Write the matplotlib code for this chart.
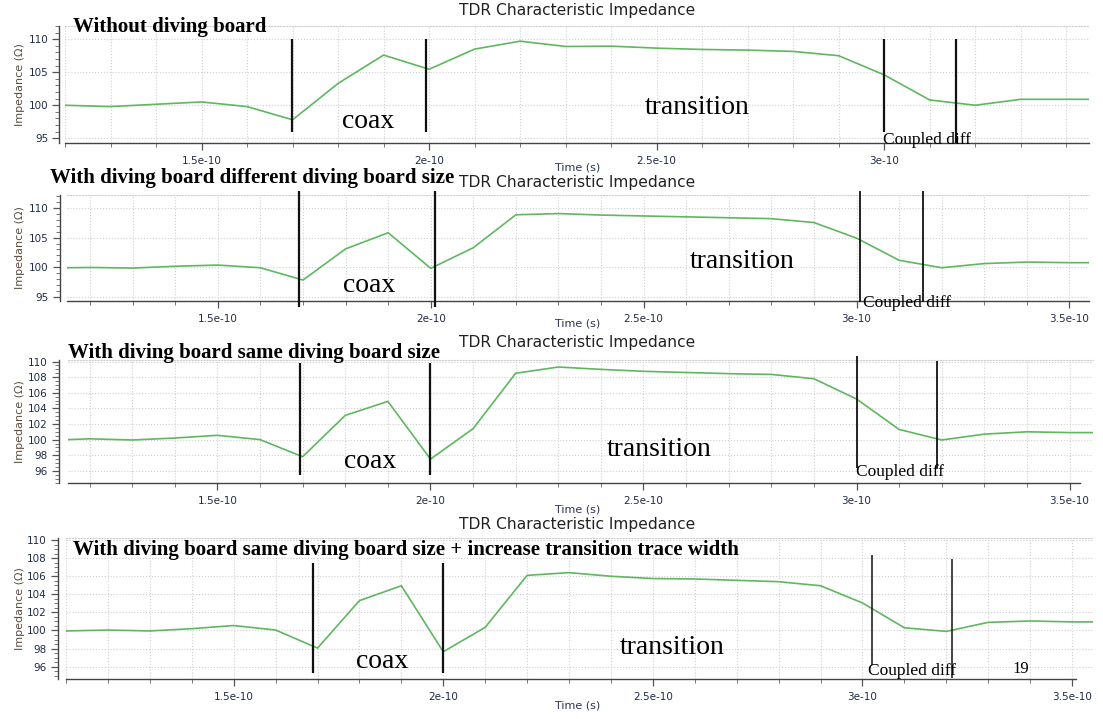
"""
TDR characteristic impedance, four diving-board variants stacked.
"""
import numpy as np
import matplotlib.pyplot as plt
from matplotlib.ticker import MultipleLocator, FixedLocator, FixedFormatter

W, H = 1103, 719

# time in units of 1e-10 s, impedance in ohm
t_none = [1.2, 1.3, 1.4, 1.5, 1.6, 1.7, 1.8, 1.9, 2.0, 2.1, 2.2, 2.3, 2.4, 2.5,
          2.6, 2.7, 2.8, 2.9, 3.0, 3.1, 3.2, 3.3, 3.4, 3.45]
z_none = [100.0, 99.8, 100.15, 100.5, 99.8, 97.8, 103.3, 107.6, 105.45, 108.5,
          109.7, 108.9, 108.95, 108.65, 108.45, 108.35, 108.15, 107.5, 104.6,
          100.8, 100.0, 100.9, 100.9, 100.9]

t_diff = [1.145, 1.2, 1.3, 1.4, 1.5, 1.6, 1.7, 1.8, 1.9, 2.0, 2.1, 2.2, 2.3, 2.4,
          2.5, 2.6, 2.7, 2.8, 2.9, 3.0, 3.1, 3.2, 3.3, 3.4, 3.5, 3.546]
z_diff = [99.95, 100.0, 99.9, 100.2, 100.4, 99.95, 97.9, 103.1, 105.8, 99.85,
          103.3, 108.8, 109.0, 108.75, 108.6, 108.45, 108.3, 108.15, 107.5,
          104.9, 101.2, 99.95, 100.65, 100.9, 100.8, 100.8]

t_same = [1.15, 1.2, 1.3, 1.4, 1.5, 1.6, 1.7, 1.8, 1.9, 2.0, 2.1, 2.2, 2.3, 2.4,
          2.5, 2.6, 2.7, 2.8, 2.9, 3.0, 3.1, 3.2, 3.3, 3.4, 3.5, 3.555]
z_same = [100.0, 100.1, 99.95, 100.2, 100.55, 100.0, 97.8, 103.1, 104.9, 97.5,
          101.4, 108.5, 109.3, 109.0, 108.75, 108.6, 108.45, 108.35, 107.8,
          105.2, 101.3, 99.95, 100.7, 101.0, 100.9, 100.9]

t_wide = [1.1, 1.2, 1.3, 1.4, 1.5, 1.6, 1.7, 1.8, 1.9, 2.0, 2.1, 2.2, 2.3, 2.4,
          2.5, 2.6, 2.7, 2.8, 2.9, 3.0, 3.1, 3.2, 3.3, 3.4, 3.5, 3.55]
z_wide = [99.95, 100.05, 99.95, 100.2, 100.55, 100.05, 98.05, 103.3, 104.95,
          97.65, 100.35, 106.1, 106.4, 106.0, 105.75, 105.7, 105.55, 105.4,
          104.95, 103.05, 100.3, 99.9, 100.9, 101.05, 100.95, 100.95]

# section markers (time, 1e-10 s)
mark_none = [1.698, 1.993, 3.0, 3.157]
mark_diff = [1.691, 2.009, 3.007, 3.156]
mark_same = [1.694, 2.0, 3.0, 3.189]
mark_wide = [1.69, 2.0, 3.023, 3.214]

xtick_vals = [1.5, 2.0, 2.5, 3.0, 3.5]
xtick_labels = ['1.5e-10', '2e-10', '2.5e-10', '3e-10', '3.5e-10']

headings = ['Without diving board',
            'With diving board different diving board size',
            'With diving board same diving board size',
            'With diving board same diving board size + increase transition trace width']

GREEN = '#5fb760'
TICK_C = '#1f2b48'
SERIF = ['Liberation Serif', 'DejaVu Serif']


def box(l, t, r, b):
    return [l / W, 1 - b / H, (r - l) / W, (b - t) / H]


def fx(x):
    return x / W


def fy(y):
    return 1 - y / H


panels = [
    dict(t=t_none, z=z_none, marks=mark_none, pos=(65, 26, 1089, 143.3),
         xlim=(1.2, 3.45), ylim=(94.24, 112.0), ystep=5, yminor=1, xend=None,
         ymax=[110, 110, 110, 110], ymin=[96.0, 96.0, 96.0, 94.3],
         lw=[1.6, 1.6, 1.6, 1.6], spine_off=4,
         title_y=10, time_y=167, head=(73, 27),
         coax=(368, 122), trans=(697, 108), cdiff=(927, 140)),
    dict(t=t_diff, z=z_diff, marks=mark_diff, pos=(66.7, 195, 1089, 301),
         xlim=(1.145, 3.546), ylim=(94.4, 112.1), ystep=5, yminor=1, xend=None,
         ymax=[112.7, 112.7, 112.8, 112.8], ymin=[93.4, 93.4, 94.3, 94.3],
         lw=[1.6, 1.6, 1.3, 1.3], spine_off=5,
         title_y=183, time_y=324, head=(50, 178),
         coax=(369, 285), trans=(742, 262), cdiff=(907, 303)),
    dict(t=t_same, z=z_same, marks=mark_same, pos=(68.3, 360, 1093, 483.3),
         xlim=(1.15, 3.555), ylim=(94.4, 110.2), ystep=2, yminor=0.5, xend=3.525,
         ymax=[109.8, 109.8, 110.7, 110.1], ymin=[95.5, 95.5, 96.35, 96.35],
         lw=[1.6, 1.6, 1.3, 1.3], spine_off=7,
         title_y=343, time_y=510, head=(68, 353),
         coax=(370, 462), trans=(659, 450), cdiff=(900, 472)),
    dict(t=t_wide, z=z_wide, marks=mark_wide, pos=(66, 538.3, 1093, 679.3),
         xlim=(1.1, 3.55), ylim=(94.6, 110.2), ystep=2, yminor=0.5, xend=3.51,
         ymax=[107.5, 107.5, 108.3, 107.9], ymin=[95.27, 95.27, 96.2, 94.7],
         lw=[1.6, 1.6, 1.1, 1.1], spine_off=6,
         title_y=524, time_y=706, head=(73, 550),
         coax=(382, 661), trans=(672, 648), cdiff=(912, 671)),
]

fig = plt.figure(figsize=(W / 100, H / 100), dpi=100)

for i, p in enumerate(panels):
    ax = fig.add_axes(box(*p['pos']))
    t = np.array(p['t']) * 1e-10
    ax.plot(t, p['z'], color=GREEN, lw=1.2, zorder=3)

    ax.vlines(np.array(p['marks']) * 1e-10, p['ymin'], p['ymax'],
              colors='#111111', linewidths=p['lw'], zorder=4, clip_on=False)

    ax.set_xlim(p['xlim'][0] * 1e-10, p['xlim'][1] * 1e-10)
    ax.set_ylim(*p['ylim'])

    # only the labelled ticks that fall inside this panel
    keep = [k for k, v in enumerate(xtick_vals) if p['xlim'][0] <= v <= p['xlim'][1]]
    ax.xaxis.set_major_locator(FixedLocator([xtick_vals[k] * 1e-10 for k in keep]))
    ax.xaxis.set_major_formatter(FixedFormatter([xtick_labels[k] for k in keep]))
    ax.xaxis.set_minor_locator(MultipleLocator(0.1e-10))
    ax.yaxis.set_major_locator(MultipleLocator(p['ystep']))
    ax.yaxis.set_minor_locator(MultipleLocator(p['yminor']))

    ax.tick_params(axis='both', which='major', labelsize=7.5, labelcolor=TICK_C,
                   color='#555555', length=5, width=0.9, pad=3)
    ax.tick_params(axis='both', which='minor', color='#777777', length=3, width=0.7)
    ax.tick_params(axis='x', which='major', pad=4)

    ax.grid(True, axis='x', which='both', ls=':', lw=0.8, color='#cfcfcf')
    ax.grid(True, axis='y', which='major', ls=':', lw=0.8, color='#cfcfcf')
    ax.set_axisbelow(True)

    for side in ['left', 'bottom']:
        ax.spines[side].set_color('#444444')
        ax.spines[side].set_linewidth(1.0)
    ax.spines['left'].set_position(('outward', p['spine_off']))
    ax.spines['right'].set_visible(False)
    ax.spines['top'].set_linestyle(':')
    ax.spines['top'].set_color('#cfcfcf')
    ax.spines['top'].set_linewidth(0.8)
    if p['xend'] is not None:
        ax.spines['bottom'].set_bounds(p['xlim'][0] * 1e-10, p['xend'] * 1e-10)

    # y label placed by hand to match the screenshot
    yc = (p['pos'][1] + p['pos'][3]) / 2
    fig.text(fx(20), fy(yc), 'Impedance (\u03a9)', rotation=90, ha='center',
             va='center', fontsize=8, color='#5b4d40')

    fig.text(fx(577), fy(p['title_y']), 'TDR Characteristic Impedance',
             ha='center', va='center', fontsize=11.2, color='#222222')
    fig.text(fx(578), fy(p['time_y']), 'Time (s)', ha='center', va='center',
             fontsize=8, color='#2a3552')

    # slide annotations
    fig.text(fx(p['head'][0]), fy(p['head'][1]), headings[i], ha='left',
             va='center', fontsize=15, fontweight='bold', family=SERIF,
             color='black', zorder=10)
    fig.text(fx(p['coax'][0]), fy(p['coax'][1]), 'coax', ha='center',
             va='center', fontsize=20, family=SERIF, color='black')
    fig.text(fx(p['trans'][0]), fy(p['trans'][1]), 'transition', ha='center',
             va='center', fontsize=20, family=SERIF, color='black')
    fig.text(fx(p['cdiff'][0]), fy(p['cdiff'][1]), 'Coupled diff', ha='center',
             va='center', fontsize=12.5, family=SERIF, color='black')

fig.text(fx(1021), fy(669), '19', ha='center', va='center', fontsize=12,
         family=SERIF, color='black')

fig.savefig('out.png', dpi=100)
